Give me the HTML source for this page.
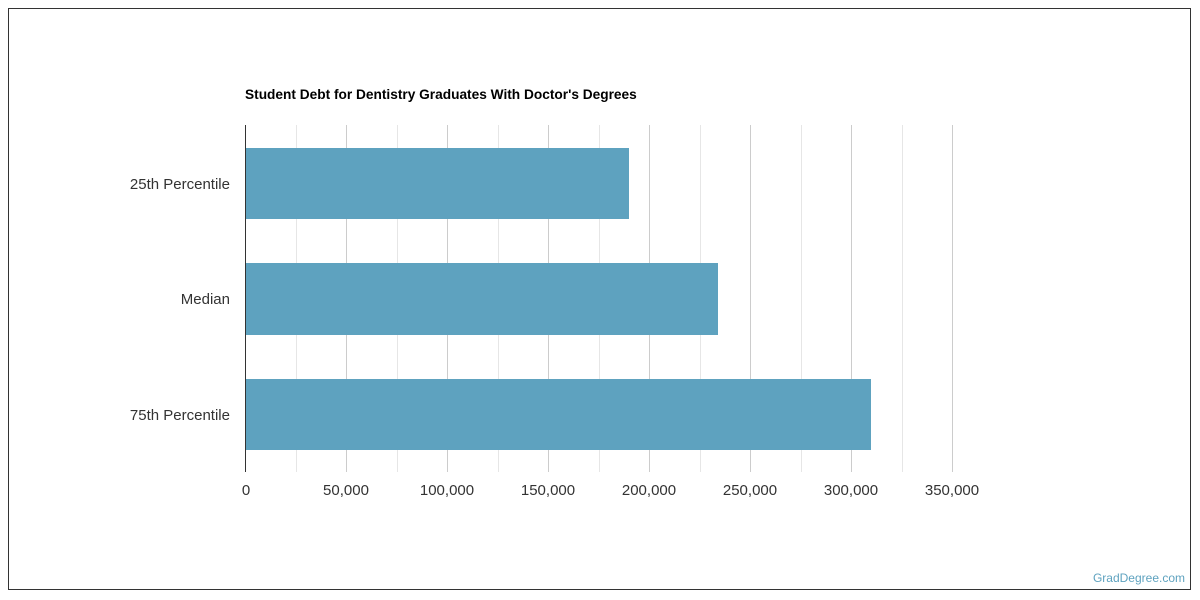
<!DOCTYPE html>
<html><head><style>
html,body{margin:0;padding:0;background:#fff;width:1200px;height:600px;overflow:hidden}
svg text{font-family:"Liberation Sans",sans-serif}
</style></head><body>
<svg width="1200" height="600" xmlns="http://www.w3.org/2000/svg">
<rect x="8.5" y="8.5" width="1182" height="581" fill="#fff" stroke="#333" stroke-width="1"/>
<text x="245" y="99" font-size="13.7" font-weight="bold" fill="#000">Student Debt for Dentistry Graduates With Doctor's Degrees</text>
<g stroke-width="1">
<line x1="296.5" y1="125" x2="296.5" y2="472" stroke="#e6e6e6"/>
<line x1="397.5" y1="125" x2="397.5" y2="472" stroke="#e6e6e6"/>
<line x1="498.5" y1="125" x2="498.5" y2="472" stroke="#e6e6e6"/>
<line x1="599.5" y1="125" x2="599.5" y2="472" stroke="#e6e6e6"/>
<line x1="700.5" y1="125" x2="700.5" y2="472" stroke="#e6e6e6"/>
<line x1="801.5" y1="125" x2="801.5" y2="472" stroke="#e6e6e6"/>
<line x1="902.5" y1="125" x2="902.5" y2="472" stroke="#e6e6e6"/>
<line x1="346.5" y1="125" x2="346.5" y2="472" stroke="#cccccc"/>
<line x1="447.5" y1="125" x2="447.5" y2="472" stroke="#cccccc"/>
<line x1="548.5" y1="125" x2="548.5" y2="472" stroke="#cccccc"/>
<line x1="649.5" y1="125" x2="649.5" y2="472" stroke="#cccccc"/>
<line x1="750.5" y1="125" x2="750.5" y2="472" stroke="#cccccc"/>
<line x1="851.5" y1="125" x2="851.5" y2="472" stroke="#cccccc"/>
<line x1="952.5" y1="125" x2="952.5" y2="472" stroke="#cccccc"/>
</g>
<rect x="245" y="148" width="384" height="71" fill="#5ea2bf"/>
<rect x="245" y="263" width="473" height="72" fill="#5ea2bf"/>
<rect x="245" y="379" width="626" height="71" fill="#5ea2bf"/>
<line x1="245.5" y1="125" x2="245.5" y2="472" stroke="#333"/>
<g font-size="15" fill="#333" text-anchor="end">
<text x="230" y="189">25th Percentile</text>
<text x="230" y="304">Median</text>
<text x="230" y="420">75th Percentile</text>
</g>
<g font-size="15" fill="#333" text-anchor="middle">
<text x="246" y="495">0</text>
<text x="346" y="495">50,000</text>
<text x="447" y="495">100,000</text>
<text x="548" y="495">150,000</text>
<text x="649" y="495">200,000</text>
<text x="750" y="495">250,000</text>
<text x="851" y="495">300,000</text>
<text x="952" y="495">350,000</text>
</g>
<text x="1185" y="582" font-size="12" fill="#5ea2bf" text-anchor="end">GradDegree.com</text>
</svg>
</body></html>
